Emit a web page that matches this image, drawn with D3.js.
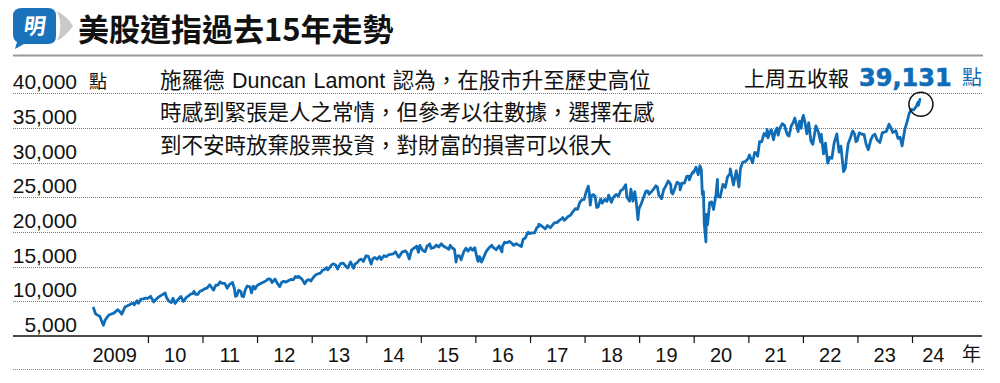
<!DOCTYPE html>
<html><head><meta charset="utf-8">
<script src="https://cdn.jsdelivr.net/npm/d3@7"></script>
<style>body{margin:0;background:#fff}svg{display:block}</style>
</head><body><svg id="c" width="1000" height="383"></svg>
<script>
const titleText = "美股道指過去15年走勢";
const noteLines = ["施羅德 Duncan Lamont 認為，在股市升至歷史高位","時感到緊張是人之常情，但參考以往數據，選擇在感","到不安時放棄股票投資，對財富的損害可以很大"];
const lastLabel = "上周五收報";
const lastValueText = "39,131";
const unitText = "點";
const yearUnit = "年";
const yTicks = [5000,10000,15000,20000,25000,30000,35000,40000];
const yTickLabels = ["5,000","10,000","15,000","20,000","25,000","30,000","35,000","40,000"];
const yearTicks = [2010,2011,2012,2013,2014,2015,2016,2017,2018,2019,2020,2021,2022,2023,2024];
const yearLabelYears = [2009,2010,2011,2012,2013,2014,2015,2016,2017,2018,2019,2020,2021,2022,2023,2024];
const yearLabels = ["2009","10","11","12","13","14","15","16","17","18","19","20","21","22","23","24"];

const dates = [
"2009-01-02","2009-01-15","2009-01-30","2009-02-13","2009-02-27","2009-03-09","2009-03-20","2009-03-31","2009-04-15","2009-04-30","2009-05-15","2009-05-29","2009-06-12","2009-06-30","2009-07-10","2009-07-31","2009-08-14","2009-08-31","2009-09-15","2009-09-30","2009-10-02","2009-10-19","2009-10-30","2009-11-13","2009-11-30","2009-12-15","2009-12-31",
"2010-01-19","2010-02-08","2010-02-26","2010-03-15","2010-03-31","2010-04-26","2010-05-06","2010-05-20","2010-06-07","2010-06-18","2010-07-02","2010-07-16","2010-07-30","2010-08-09","2010-08-26","2010-09-15","2010-09-30","2010-10-15","2010-10-29","2010-11-05","2010-11-16","2010-11-30","2010-12-15","2010-12-31",
"2011-01-14","2011-01-31","2011-02-18","2011-03-01","2011-03-16","2011-03-31","2011-04-15","2011-04-29","2011-05-13","2011-05-31","2011-06-15","2011-06-30","2011-07-21","2011-08-02","2011-08-10","2011-08-19","2011-08-31","2011-09-15","2011-09-22","2011-10-03","2011-10-14","2011-10-27","2011-11-15","2011-11-25","2011-12-07","2011-12-19","2011-12-30",
"2012-01-13","2012-01-31","2012-02-15","2012-02-29","2012-03-16","2012-03-30","2012-04-10","2012-04-30","2012-05-15","2012-06-01","2012-06-15","2012-06-29","2012-07-13","2012-07-31","2012-08-15","2012-08-31","2012-09-14","2012-09-28","2012-10-05","2012-10-15","2012-10-31","2012-11-15","2012-11-30","2012-12-14","2012-12-28","2012-12-31",
"2013-01-15","2013-01-31","2013-02-15","2013-02-28","2013-03-15","2013-03-28","2013-04-11","2013-04-18","2013-04-30","2013-05-15","2013-05-28","2013-06-10","2013-06-24","2013-06-28","2013-07-15","2013-07-31","2013-08-15","2013-08-30","2013-09-18","2013-09-30","2013-10-08","2013-10-18","2013-10-31","2013-11-15","2013-11-29","2013-12-13","2013-12-31",
"2014-01-15","2014-02-03","2014-02-14","2014-02-28","2014-03-14","2014-03-31","2014-04-11","2014-04-30","2014-05-15","2014-05-30","2014-06-13","2014-06-30","2014-07-16","2014-07-31","2014-08-07","2014-08-29","2014-09-19","2014-09-30","2014-10-16","2014-10-31","2014-11-14","2014-11-28","2014-12-05","2014-12-16","2014-12-26","2014-12-31",
"2015-01-15","2015-01-30","2015-02-13","2015-02-27","2015-03-02","2015-03-11","2015-03-31","2015-04-15","2015-04-30","2015-05-19","2015-05-29","2015-06-15","2015-06-30","2015-07-08","2015-07-17","2015-07-31","2015-08-14","2015-08-25","2015-08-31","2015-09-15","2015-09-28","2015-10-15","2015-10-30","2015-11-13","2015-11-30","2015-12-14","2015-12-29","2015-12-31",
"2016-01-15","2016-01-20","2016-01-29","2016-02-11","2016-02-29","2016-03-15","2016-03-31","2016-04-20","2016-04-29","2016-05-19","2016-05-31","2016-06-08","2016-06-27","2016-06-30","2016-07-15","2016-07-29","2016-08-15","2016-08-31","2016-09-13","2016-09-30","2016-10-14","2016-11-04","2016-11-15","2016-11-30","2016-12-15","2016-12-20","2016-12-30",
"2017-01-13","2017-01-31","2017-02-15","2017-02-28","2017-03-01","2017-03-15","2017-03-31","2017-04-13","2017-04-28","2017-05-17","2017-05-31","2017-06-15","2017-06-30","2017-07-14","2017-07-31","2017-08-08","2017-08-18","2017-08-31","2017-09-15","2017-09-29","2017-10-13","2017-10-31","2017-11-15","2017-11-30","2017-12-15","2017-12-29",
"2018-01-12","2018-01-26","2018-02-02","2018-02-08","2018-02-16","2018-02-27","2018-03-12","2018-03-23","2018-04-02","2018-04-18","2018-04-30","2018-05-15","2018-05-31","2018-06-11","2018-06-29","2018-07-13","2018-07-31","2018-08-15","2018-08-31","2018-09-14","2018-10-03","2018-10-11","2018-10-29","2018-11-07","2018-11-20","2018-12-03","2018-12-14","2018-12-24","2018-12-31",
"2019-01-15","2019-01-31","2019-02-15","2019-02-28","2019-03-08","2019-03-29","2019-04-15","2019-04-23","2019-05-03","2019-05-13","2019-05-31","2019-06-14","2019-06-28","2019-07-15","2019-07-31","2019-08-05","2019-08-14","2019-08-30","2019-09-12","2019-09-30","2019-10-02","2019-10-15","2019-10-31","2019-11-15","2019-11-29","2019-12-03","2019-12-16","2019-12-27","2019-12-31",
"2020-01-17","2020-01-31","2020-02-12","2020-02-21","2020-02-28","2020-03-06","2020-03-12","2020-03-16","2020-03-23","2020-03-26","2020-04-03","2020-04-17","2020-04-30","2020-05-13","2020-05-29","2020-06-08","2020-06-11","2020-06-26","2020-07-15","2020-07-31","2020-08-14","2020-08-31","2020-09-02","2020-09-23","2020-10-12","2020-10-30","2020-11-09","2020-11-24","2020-12-15","2020-12-31",
"2021-01-08","2021-01-29","2021-02-12","2021-02-25","2021-03-04","2021-03-17","2021-03-31","2021-04-16","2021-04-30","2021-05-07","2021-05-12","2021-05-28","2021-06-04","2021-06-18","2021-06-30","2021-07-12","2021-07-19","2021-07-30","2021-08-16","2021-08-31","2021-09-10","2021-09-20","2021-09-30","2021-10-15","2021-10-29","2021-11-08","2021-11-30","2021-12-10","2021-12-20","2021-12-29","2021-12-31",
"2022-01-04","2022-01-14","2022-01-27","2022-02-09","2022-02-23","2022-03-08","2022-03-29","2022-04-14","2022-04-29","2022-05-04","2022-05-19","2022-06-01","2022-06-16","2022-06-30","2022-07-14","2022-07-29","2022-08-16","2022-08-31","2022-09-12","2022-09-30","2022-10-12","2022-10-21","2022-10-31","2022-11-15","2022-11-30","2022-12-13","2022-12-22","2022-12-30",
"2023-01-13","2023-01-31","2023-02-14","2023-02-28","2023-03-15","2023-03-31","2023-04-14","2023-04-28","2023-05-12","2023-05-31","2023-06-16","2023-06-30","2023-07-14","2023-07-31","2023-08-15","2023-08-25","2023-09-15","2023-09-29","2023-10-13","2023-10-27","2023-11-14","2023-11-30","2023-12-13","2023-12-29",
"2024-01-12","2024-01-31","2024-02-09","2024-02-13","2024-02-23"];

const closes = [
9034,8212,8001,7850,7063,6547,7278,7609,8029,8168,8268,8500,8799,8447,8146,9172,9321,9496,9683,9712,9488,10092,9713,10270,10345,10452,10428,
10725,9908,10325,10642,10857,11205,10520,10068,9816,10450,9686,10097,10466,10698,9985,10572,10788,11062,11118,11444,11023,11006,11457,11578,
11787,11892,12391,12058,11613,12320,12342,12811,12596,12570,11897,12414,12724,11867,10720,10817,11614,11434,10733,10655,11644,12209,12096,11231,12196,11766,12218,
12422,12633,12781,12952,13233,13212,12716,13214,12632,12119,12767,12880,12777,13009,13165,13090,13593,13437,13610,13424,13096,12542,13025,13135,12938,13104,
13534,13861,13981,14054,14514,14578,14865,14537,14840,15275,15409,15238,14659,14910,15484,15500,15112,14810,15677,15130,14776,15400,15546,15962,16086,15755,16577,
16482,15373,16154,16322,16066,16458,16027,16581,16447,16717,16776,16827,17138,16563,16368,17098,17280,17043,16117,17391,17635,17828,17959,17068,18053,17823,
17320,17165,18019,18133,18288,17635,17776,18113,17841,18312,18011,17792,17620,17515,18086,17690,17477,15666,16528,16600,16001,17142,17664,17245,17720,17368,17720,17425,
15988,15766,16466,15660,16517,17251,17685,18096,17774,17435,17787,18006,17140,17930,18517,18432,18636,18401,18066,18308,18138,17888,18923,19124,19853,19975,19763,
19886,19864,20611,20812,21115,20950,20663,20453,20941,20607,21009,21360,21350,21638,21891,22085,21675,21948,22268,22405,22871,23377,23271,24272,24652,24719,
25803,26617,25521,23860,25219,25410,25179,23533,23644,24748,24163,24706,24416,25322,24271,25019,25415,25162,25965,26154,26828,25052,24443,26180,24465,25826,24101,21792,23327,
24066,24999,25883,25916,25450,25929,26385,26656,26505,25324,24815,26090,26600,27359,26864,25718,25480,26403,27182,26917,26079,27025,27046,28005,28051,27503,28236,28645,28538,
29348,28256,29551,28992,25409,25864,21200,20188,18591,22552,21052,24242,24345,23248,25383,27572,25128,25016,26870,26428,27931,28430,29100,26763,28837,26502,29158,30046,30199,30606,
31098,29983,31458,31402,30924,33015,32982,34200,33875,34778,33588,34529,34756,33290,34503,34996,33962,34935,35625,35361,34608,33970,33844,35295,35820,36432,34484,35971,34932,36488,36338,
36800,35912,34160,35768,33131,32632,35294,34451,32977,34061,31253,32813,29927,30775,30630,32845,34152,31510,32381,28725,29210,31082,32732,33592,34589,34108,33027,33147,
34302,34086,34089,32656,31874,33274,33886,34098,33300,32908,34299,34408,34509,35560,34946,34346,34618,33507,33670,32418,34828,35950,37090,37690,
37593,38150,38671,38272,39131];

const svg = d3.select("#c");
const BLUE = "#0f6db8";
const CJK = "'Noto Sans CJK TC','Noto Sans CJK SC',sans-serif";
const LAT = "'Liberation Sans',Arial,'Noto Sans CJK TC',sans-serif";

const parse = d3.timeParse("%Y-%m-%d");
const data = dates.map((d,i)=>({date:parse(d), v:closes[i]}));

const x = d3.scaleTime().domain([new Date(2009,0,1), new Date(2024,0,1)]).range([93.4, 912]);
const y = d3.scaleLinear().domain([5000,40000]).range([336, 93.3]);

// header
const hdr = svg.append("g");
hdr.append("path")
  .attr("d","M22,8 H48 Q56,8 56,16 V36 Q56,44 48,44 H24 L15,49 L17,42 Q13,40 13,34 V16 Q13,8 22,8 Z")
  .attr("fill","#1a72bb");
hdr.append("text").attr("x",34.5).attr("y",34.5).attr("text-anchor","middle")
  .attr("font-family",CJK).attr("font-weight",700).attr("font-size",22)
  .attr("fill","#fff").attr("transform","skewX(-8) translate(4,0)").text("明");
hdr.append("path")
  .attr("d","M57,11 Q68,17 73,26 Q67,35 57,41 Q64,26 57,11 Z")
  .attr("fill","#c9c9c9");
hdr.append("text").attr("x",78).attr("y",40.5)
  .attr("font-family",CJK).attr("font-weight",700).attr("font-size",31)
  .attr("fill","#111").text(titleText);
hdr.append("line").attr("x1",13).attr("x2",983).attr("y1",55.5).attr("y2",55.5)
  .attr("stroke","#9a9a9a").attr("stroke-width",2);

// grid
svg.append("g").selectAll("line").data(yTicks.slice(1)).join("line")
  .attr("x1",13).attr("x2",982)
  .attr("y1",d=>Math.round(y(d))+0.5).attr("y2",d=>Math.round(y(d))+0.5)
  .attr("stroke","#7a7a7a").attr("stroke-width",1).attr("stroke-dasharray","1,1");

// y labels
svg.append("g").selectAll("text").data(yTicks).join("text")
  .attr("x",77).attr("y",d=>y(d)-4).attr("text-anchor","end")
  .attr("font-family",LAT).attr("font-size",21).attr("fill","#111")
  .text((d,i)=>yTickLabels[i]);
svg.append("text").attr("x",89).attr("y",y(40000)-5)
  .attr("font-family",CJK).attr("font-size",18).attr("fill","#111").text(unitText);

// x axis
const xAxis = d3.axisBottom(x).tickValues(yearTicks.map(t=>new Date(t,0,1)))
  .tickSize(7).tickFormat("");
const ax = svg.append("g").attr("transform","translate(0,336)").call(xAxis);
ax.select(".domain").remove();
ax.selectAll(".tick line").attr("stroke","#111").attr("stroke-width",1.2);
svg.append("line").attr("x1",13).attr("x2",982).attr("y1",336).attr("y2",336)
  .attr("stroke","#111").attr("stroke-width",1.5);

svg.append("g").selectAll("text").data(yearLabelYears).join("text")
  .attr("x",(d,i)=>{
    const mid = (x(new Date(d,0,1)) + x(new Date(d+1,0,1)))/2;
    return i===0 ? mid-6 : (d===2024 ? mid-6 : mid);
  })
  .attr("y",362).attr("text-anchor","middle")
  .attr("font-family",LAT).attr("font-size",20).attr("fill","#111")
  .text((d,i)=>yearLabels[i]);
svg.append("text").attr("x",962).attr("y",361)
  .attr("font-family",CJK).attr("font-size",19).attr("fill","#111").text(yearUnit);
svg.append("line").attr("x1",13).attr("x2",984).attr("y1",369.5).attr("y2",369.5)
  .attr("stroke","#8a8a8a").attr("stroke-width",1).attr("stroke-dasharray","1,1");

// line
const line = d3.line().x(d=>x(d.date)).y(d=>y(d.v));
svg.append("path").datum(data).attr("d",line)
  .attr("fill","none").attr("stroke",BLUE).attr("stroke-width",2.8)
  .attr("stroke-linejoin","round").attr("stroke-linecap","round");

// circle on last point
const last = data[data.length-1];
svg.append("circle").attr("cx",x(last.date)+1).attr("cy",y(last.v)+5).attr("r",12)
  .attr("fill","none").attr("stroke","#111").attr("stroke-width",1.5);

// note
svg.append("g").selectAll("text").data(noteLines).join("text")
  .attr("x",160).attr("y",(d,i)=>88+i*32.3)
  .attr("font-family",LAT).attr("font-size",21.5).attr("fill","#111")
  .attr("word-spacing",(d,i)=>i===0?1.5:0)
  .text(d=>d);

// last close label
svg.append("text").attr("x",849).attr("y",86).attr("text-anchor","end")
  .attr("font-family",CJK).attr("font-size",21).attr("fill","#111").text(lastLabel);
svg.append("text").attr("x",859).attr("y",85.5)
  .attr("font-family","'DejaVu Sans',sans-serif").attr("font-weight",700)
  .attr("font-size",24).attr("fill",BLUE).attr("stroke",BLUE).attr("stroke-width",0.6)
  .text(lastValueText);
svg.append("text").attr("x",962).attr("y",85)
  .attr("font-family",CJK).attr("font-size",20).attr("fill",BLUE).text(unitText);
</script>
</body></html>
